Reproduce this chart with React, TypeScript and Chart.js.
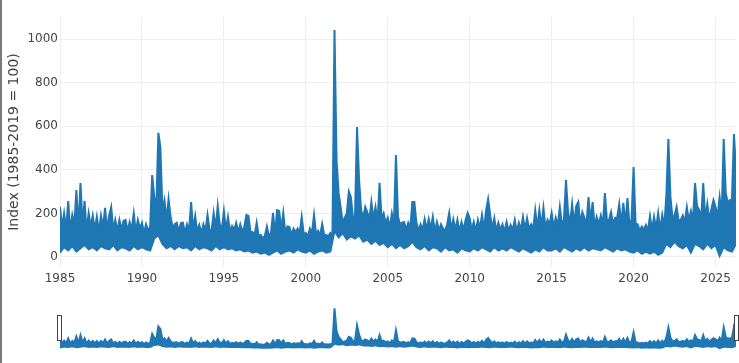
import React, { useEffect, useRef } from "react";
import { Chart, registerables } from "chart.js";

Chart.register(...registerables);

const BLUE = "#1f77b4";
const START_YEAR = 1985;
const UPPER_STEPS_PER_YEAR = 8;
const LOWER_STEPS_PER_YEAR = 4;
const X_MIN = 1985;
const X_MAX = 2026.25;
const Y_MIN = -46;
const Y_MAX = 1101;

// Upper envelope of the daily index, 8 readings per year
const upper1985to1994 = [
  230, 135, 200, 125, 257, 120, 193, 150,
  307, 130, 339, 150, 257, 120, 200, 140,
  190, 125, 185, 115, 190, 135, 225, 125,
  190, 229, 125, 170, 120, 170, 125, 165,
  170, 120, 160, 125, 200, 115, 170, 130,
  157, 110, 150, 120, 140, 376, 277, 215,
  570, 505, 215, 260, 170, 266, 184, 135,
  150, 157, 115, 155, 157, 110, 150, 120,
  252, 125, 188, 115, 147, 110, 150, 120,
  193, 125, 120, 202, 130, 234, 150, 125,
];
const upper1995to2004 = [
  211, 125, 183, 115, 142, 125, 157, 115,
  150, 115, 140, 193, 188, 115, 115, 100,
  157, 95, 101, 85, 97, 140, 95, 110,
  202, 105, 215, 211, 125, 202, 110, 140,
  138, 100, 130, 115, 130, 110, 184, 105,
  110, 95, 130, 110, 193, 105, 120, 100,
  151, 100, 101, 95, 110, 100, 1041, 445,
  294, 229, 160, 180, 200, 300, 275, 180,
  190, 596, 353, 215, 180, 230, 206, 170,
  252, 175, 229, 160, 340, 175, 200, 156,
];
const upper2005to2014 = [
  180, 135, 200, 150, 468, 184, 150, 157,
  160, 125, 157, 135, 252, 252, 157, 120,
  150, 125, 174, 125, 174, 130, 184, 115,
  161, 120, 150, 130, 120, 150, 202, 125,
  173, 125, 170, 115, 160, 125, 170, 202,
  178, 125, 161, 120, 170, 130, 193, 125,
  215, 266, 193, 130, 178, 120, 157, 125,
  150, 115, 161, 120, 147, 125, 170, 115,
  157, 125, 184, 125, 178, 130, 150, 130,
  215, 135, 215, 140, 225, 135, 170, 150,
];
const upper2015to2026 = [
  202, 135, 180, 145, 229, 150, 170, 353,
  206, 155, 243, 150, 234, 252, 150, 206,
  180, 150, 275, 160, 252, 140, 184, 150,
  190, 145, 293, 165, 170, 206, 150, 180,
  180, 243, 150, 248, 150, 270, 145, 170,
  413, 150, 150, 120, 140, 125, 147, 120,
  188, 125, 184, 130, 202, 125, 193, 140,
  284, 541, 275, 180, 190, 229, 165, 170,
  190, 160, 229, 165, 210, 170, 339, 234,
  215, 180, 339, 175, 243, 170, 220, 261,
  230, 185, 275, 190, 541, 293, 248, 261,
  260, 564, 400,
];

// Lower envelope of the daily index, 4 readings per year
const lower1985to2004 = [
  20, 45, 30, 50,
  25, 40, 55, 35,
  45, 30, 50, 40,
  35, 55, 30, 45,
  40, 30, 50, 35,
  45, 35, 30, 85,
  100, 60, 40, 50,
  35, 50, 40, 45,
  30, 50, 35, 45,
  40, 30, 50, 35,
  45, 35, 40, 30,
  35, 25, 30, 20,
  25, 15, 20, 10,
  20, 30, 15, 25,
  30, 20, 35, 25,
  20, 30, 15, 25,
  30, 20, 25, 120,
  90, 110, 80, 95,
  85, 100, 70, 80,
  60, 75, 55, 65,
];
const lower2005to2026 = [
  45, 60, 40, 55,
  40, 50, 70, 45,
  35, 50, 30, 45,
  40, 25, 45, 30,
  35, 20, 40, 30,
  25, 40, 30, 45,
  35, 25, 45, 30,
  40, 30, 45, 35,
  25, 40, 30, 20,
  35, 25, 45, 30,
  30, 40, 25, 45,
  35, 25, 40, 30,
  45, 30, 40, 35,
  30, 45, 35, 25,
  40, 30, 35, 25,
  20, 30, 15, 25,
  15, 25, 10, 20,
  60, 45, 70, 50,
  40, 55, 20, 60,
  50, 35, 60, 40,
  55, 5, 45, 30,
  25, 60,
];

const xTickYears = [1985, 1990, 1995, 2000, 2005, 2010, 2015, 2020, 2025];
const yTickValues = [0, 200, 400, 600, 800, 1000];

const upperValues = [
  ...upper1985to1994,
  ...upper1995to2004,
  ...upper2005to2014,
  ...upper2015to2026,
];
const lowerValues = [...lower1985to2004, ...lower2005to2026];

function makeDatasets() {
  const upperPoints = upperValues.map((v, i) => ({
    x: START_YEAR + i / UPPER_STEPS_PER_YEAR,
    y: v,
  }));
  const lowerPoints = lowerValues.map((v, i) => ({
    x: START_YEAR + i / LOWER_STEPS_PER_YEAR,
    y: v,
  }));
  return [
    {
      data: upperPoints,
      borderColor: BLUE,
      backgroundColor: BLUE,
      borderWidth: 2,
      pointRadius: 0,
      tension: 0,
      fill: "+1",
    },
    {
      data: lowerPoints,
      borderColor: BLUE,
      backgroundColor: BLUE,
      borderWidth: 2,
      pointRadius: 0,
      tension: 0,
      fill: false,
    },
  ];
}

const FONT = "'DejaVu Sans', Verdana, sans-serif";

export default function App() {
  const mainRef = useRef<HTMLCanvasElement | null>(null);
  const sliderRef = useRef<HTMLCanvasElement | null>(null);

  useEffect(() => {
    const main = new Chart(mainRef.current!, {
      type: "line",
      data: { datasets: makeDatasets() as any },
      options: {
        responsive: false,
        animation: false,
        layout: { padding: { top: 17, right: 3, left: 0, bottom: 0 } },
        plugins: { legend: { display: false }, tooltip: { enabled: false } },
        scales: {
          x: {
            type: "linear",
            min: X_MIN,
            max: X_MAX,
            afterBuildTicks: (s: any) => {
              s.ticks = xTickYears.map((v) => ({ value: v }));
            },
            afterFit: (s: any) => {
              s.height = 28;
            },
            ticks: {
              callback: (v: any) => String(v),
              color: "#444",
              font: { family: FONT, size: 12 },
              padding: 5,
              maxRotation: 0,
              autoSkip: false,
            },
            grid: { color: "#eeeeee", drawTicks: false },
            border: { display: false },
          },
          y: {
            type: "linear",
            min: Y_MIN,
            max: Y_MAX,
            afterBuildTicks: (s: any) => {
              s.ticks = yTickValues.map((v) => ({ value: v }));
            },
            afterFit: (s: any) => {
              s.width = 60;
            },
            ticks: {
              callback: (v: any) => String(v),
              color: "#444",
              font: { family: FONT, size: 12 },
              padding: 2,
            },
            grid: { color: "#eeeeee", drawTicks: false },
            border: { display: false },
            title: {
              display: true,
              text: "Index (1985-2019 = 100)",
              color: "#444",
              font: { family: FONT, size: 14 },
              padding: { top: 6, bottom: 0 },
            },
          },
        },
      } as any,
    });

    const handles = {
      id: "handles",
      afterDraw(chart: any) {
        const { ctx, chartArea } = chart;
        ctx.save();
        ctx.fillStyle = "#ffffff";
        ctx.strokeStyle = "#444";
        ctx.lineWidth = 1;
        for (const x of [chartArea.left - 2.5, chartArea.right - 1.5]) {
          ctx.fillRect(x, 15.5, 4, 25);
          ctx.strokeRect(x, 15.5, 4, 25);
        }
        ctx.restore();
      },
    };

    const slider = new Chart(sliderRef.current!, {
      type: "line",
      data: { datasets: makeDatasets() as any },
      options: {
        responsive: false,
        animation: false,
        layout: { padding: { top: 6, right: 3, left: 60, bottom: 5 } },
        plugins: { legend: { display: false }, tooltip: { enabled: false } },
        scales: {
          x: { type: "linear", display: false, min: X_MIN, max: X_MAX },
          y: { type: "linear", display: false, min: Y_MIN, max: Y_MAX },
        },
      } as any,
      plugins: [handles],
    });

    return () => {
      main.destroy();
      slider.destroy();
    };
  }, []);

  return (
    <div
      style={{
        position: "fixed",
        left: 0,
        top: 0,
        width: 739,
        height: 363,
        background: "#fff",
        overflow: "hidden",
      }}
    >
      <canvas
        ref={mainRef}
        width={739}
        height={295}
        style={{ position: "absolute", left: 0, top: 0, width: 739, height: 295 }}
      />
      <canvas
        ref={sliderRef}
        width={739}
        height={55}
        style={{ position: "absolute", left: 0, top: 300, width: 739, height: 55 }}
      />
      <div
        style={{
          position: "absolute",
          left: 0,
          top: 0,
          width: 2,
          height: 363,
          background: "#7a7a7a",
        }}
      />
    </div>
  );
}
